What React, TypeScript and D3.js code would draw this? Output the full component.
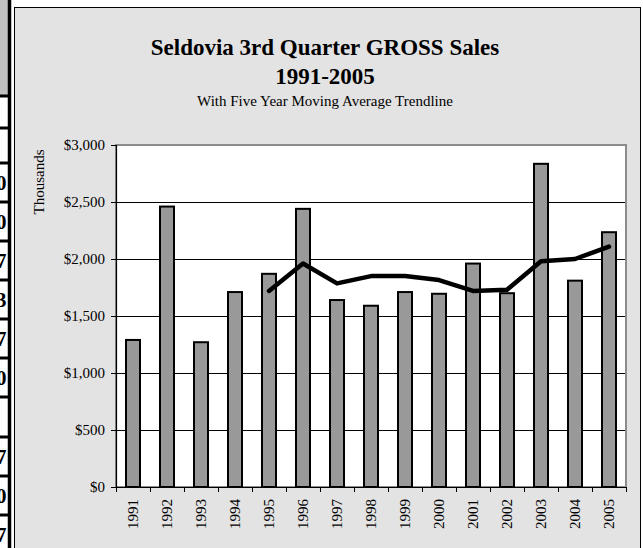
import React from "react";
import * as d3 from "d3";

const years = ["1991","1992","1993","1994","1995","1996","1997","1998","1999","2000","2001","2002","2003","2004","2005"];
const sales = [1290, 2460, 1270, 1710, 1870, 2440, 1640, 1590, 1710, 1695, 1960, 1700, 2835, 1810, 2235];
const trendYears = ["1995","1996","1997","1998","1999","2000","2001","2002","2003","2004","2005"];
const trendValues = [1720, 1960, 1786, 1850, 1850, 1815, 1720, 1730, 1980, 2000, 2108];
const yTicks = [0, 500, 1000, 1500, 2000, 2500, 3000];
const sideGlyphs = ["", "", "0", "0", "7", "3", "7", "0", "", "7", "0", "7"];

const W = 643, H = 548;
const PL = 116, PR = 626, PT = 145, PB = 487;
const serif = "'Liberation Serif', 'Times New Roman', serif";

export default function App() {
  const x = d3.scaleBand<string>().domain(years).range([PL, PR]).paddingInner(20 / 34).paddingOuter(10 / 34);
  const y = d3.scaleLinear().domain([0, 3000]).range([PB, PT]);
  const step = x.step();
  const bw = x.bandwidth();
  const cx = (d: string) => (x(d) as number) + bw / 2;
  const line = d3.line<number>().x((_, i) => cx(trendYears[i])).y((v) => y(v));
  const boundaries = d3.range(years.length + 1).map((i) => PL + i * step);
  const fmt = (v: number) => "$" + d3.format(",")(v);
  const rowLines = [96, 128, 163, 202, 241, 280, 319, 358, 397, 437, 476, 515];

  return (
    <svg width={W} height={H} style={{ position: "absolute", left: 0, top: 0, background: "#ffffff" }} fontFamily={serif}>
      <defs>
        <clipPath id="sideclip"><rect x={0} y={0} width={7.5} height={H} /></clipPath>
      </defs>
      {/* left table fragment */}
      <rect x={0} y={0} width={8} height={96} fill="#c0c0c0" />
      <g clipPath="url(#sideclip)">
        {sideGlyphs.map((g, i) => (
          <text key={i} x={6.5} y={(rowLines[i] + (rowLines[i + 1] ?? 555)) / 2 + 7} textAnchor="end" fontSize={21} fontWeight="bold">{g}</text>
        ))}
      </g>
      {rowLines.map((ry, i) => (
        <line key={i} x1={0} x2={11} y1={ry} y2={ry} stroke="#000" strokeWidth={3} />
      ))}
      <line x1={9.5} x2={9.5} y1={0} y2={H} stroke="#000" strokeWidth={3.5} />

      {/* chart area */}
      <rect x={14.5} y={7.5} width={626} height={560} fill="#e3e3e3" stroke="#000" strokeWidth={1} />

      <text x={325} y={55} textAnchor="middle" fontSize={23} fontWeight="bold">Seldovia 3rd Quarter GROSS Sales</text>
      <text x={325} y={84} textAnchor="middle" fontSize={23} fontWeight="bold">1991-2005</text>
      <text x={325} y={106} textAnchor="middle" fontSize={15}>With Five Year Moving Average Trendline</text>

      {/* plot area */}
      <rect x={PL} y={PT} width={PR - PL} height={PB - PT} fill="#ffffff" stroke="#8c8c8c" strokeWidth={2} />
      {yTicks.filter((t) => t > 0 && t < 3000).map((t) => (
        <line key={t} x1={PL} x2={PR - 1} y1={Math.round(y(t)) + 0.5} y2={Math.round(y(t)) + 0.5} stroke="#000" strokeWidth={1} />
      ))}

      {years.map((d, i) => (
        <rect key={d} x={x(d)} y={y(sales[i])} width={bw} height={PB - y(sales[i])} fill="#999999" stroke="#000" strokeWidth={2} />
      ))}

      <path d={line(trendValues) || ""} fill="none" stroke="#000" strokeWidth={4.5} strokeLinejoin="round" strokeLinecap="round" />

      {/* axes */}
      <line x1={PL + 0.5} x2={PL + 0.5} y1={PT} y2={PB} stroke="#000" strokeWidth={1.2} />
      <line x1={PL} x2={PR} y1={PB + 0.5} y2={PB + 0.5} stroke="#000" strokeWidth={1.2} />
      {yTicks.map((t) => (
        <g key={t}>
          <line x1={PL - 5} x2={PL} y1={Math.round(y(t)) + 0.5} y2={Math.round(y(t)) + 0.5} stroke="#000" strokeWidth={1} />
          <text x={105} y={y(t)} textAnchor="end" dominantBaseline="central" fontSize={15}>{fmt(t)}</text>
        </g>
      ))}
      {boundaries.map((bx, i) => (
        <line key={i} x1={bx + 0.5} x2={bx + 0.5} y1={PB} y2={PB + 5} stroke="#000" strokeWidth={1} />
      ))}
      {years.map((d) => (
        <text key={d} transform={`translate(${cx(d)},${PB + 12}) rotate(-90)`} textAnchor="end" dominantBaseline="central" fontSize={15}>{d}</text>
      ))}
      <text transform={`translate(39,182) rotate(-90)`} textAnchor="middle" dominantBaseline="central" fontSize={15}>Thousands</text>
    </svg>
  );
}
